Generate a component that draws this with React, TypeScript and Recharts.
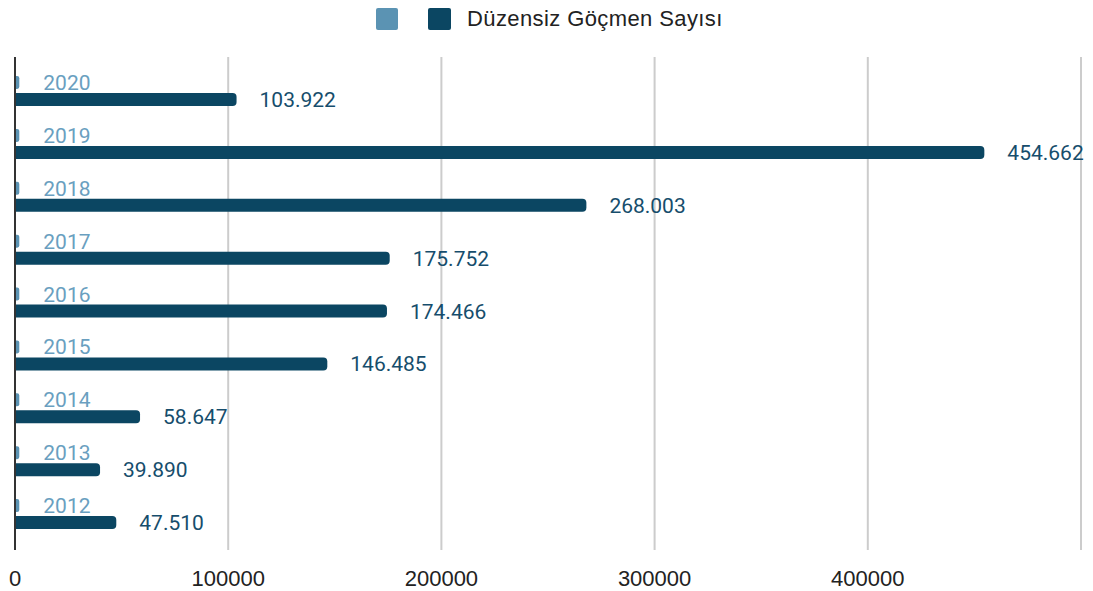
import React from 'react';
import { BarChart, Bar, XAxis, YAxis, CartesianGrid, Legend, LabelList, ReferenceLine } from 'recharts';

const years = ['2020', '2019', '2018', '2017', '2016', '2015', '2014', '2013', '2012'];
const yearValues = [2020, 2019, 2018, 2017, 2016, 2015, 2014, 2013, 2012];
const migrantCounts = [103922, 454662, 268003, 175752, 174466, 146485, 58647, 39890, 47510];
const xTicks = [0, 100000, 200000, 300000, 400000, 500000];
const seriesName = 'Düzensiz Göçmen Sayısı';

const data = years.map((y, i) => ({ year: y, yearValue: yearValues[i], count: migrantCounts[i] }));

const LIGHT = '#5b93b3';
const DARK = '#0b4662';

const fmtDots = (v: any) => String(v).replace(/\B(?=(\d{3})+(?!\d))/g, '.');

const renderLegend = () => (
  <div style={{ display: 'flex', alignItems: 'center', fontFamily: '"Liberation Sans", Arial, sans-serif' }}>
    <span style={{ width: 22, height: 22, background: LIGHT, borderRadius: 2, marginRight: 30, display: 'inline-block' }} />
    <span style={{ width: 23, height: 22, background: DARK, borderRadius: 2, marginRight: 16, display: 'inline-block' }} />
    <span style={{ fontSize: 22, letterSpacing: 0.4, color: '#222', lineHeight: '22px', whiteSpace: 'nowrap' }}>{seriesName}</span>
  </div>
);

export default function App() {
  return (
    <div style={{ position: 'absolute', left: 0, top: 0, background: '#fff' }}>
      <BarChart
        width={1093}
        height={591}
        data={data}
        layout="vertical"
        margin={{ top: 57, right: 12, bottom: 0, left: 15 }}
        barSize={13}
        barGap={4}
      >
        <CartesianGrid horizontal={false} stroke="#cccccc" strokeWidth={2} />
        <XAxis
          type="number"
          domain={[0, 500000]}
          ticks={xTicks}
          tickFormatter={(v: number) => (v === 500000 ? '' : String(v))}
          axisLine={false}
          tickLine={false}
          height={41}
          tickMargin={14}
          tick={{ fill: '#222', fontSize: 22, fontFamily: '"Liberation Sans", Arial, sans-serif' }}
        />
        <YAxis
          type="category"
          dataKey="year"
          width={0}
          tick={false}
          tickLine={false}
          axisLine={false}
          padding={{ top: 8, bottom: 9 }}
        />
        <ReferenceLine x={0} stroke="#333333" strokeWidth={2} />
        <Legend verticalAlign="middle" align="center" wrapperStyle={{ top: 8, left: 376, width: 'auto' }} content={renderLegend} />
        <Bar dataKey="yearValue" name="" fill={LIGHT} radius={[0, 3, 3, 0]} isAnimationActive={false}>
          <LabelList
            dataKey="yearValue"
            position="right"
            offset={24}
            fill="#6a9fc0"
            style={{ fontSize: 21, fontFamily: 'Roboto, sans-serif' }}
          />
        </Bar>
        <Bar dataKey="count" name={seriesName} fill={DARK} radius={[0, 4, 4, 0]} isAnimationActive={false}>
          <LabelList
            dataKey="count"
            position="right"
            offset={23}
            fill="#164d6c"
            formatter={fmtDots}
            style={{ fontSize: 21, fontFamily: 'Roboto, sans-serif' }}
          />
        </Bar>
      </BarChart>
    </div>
  );
}
